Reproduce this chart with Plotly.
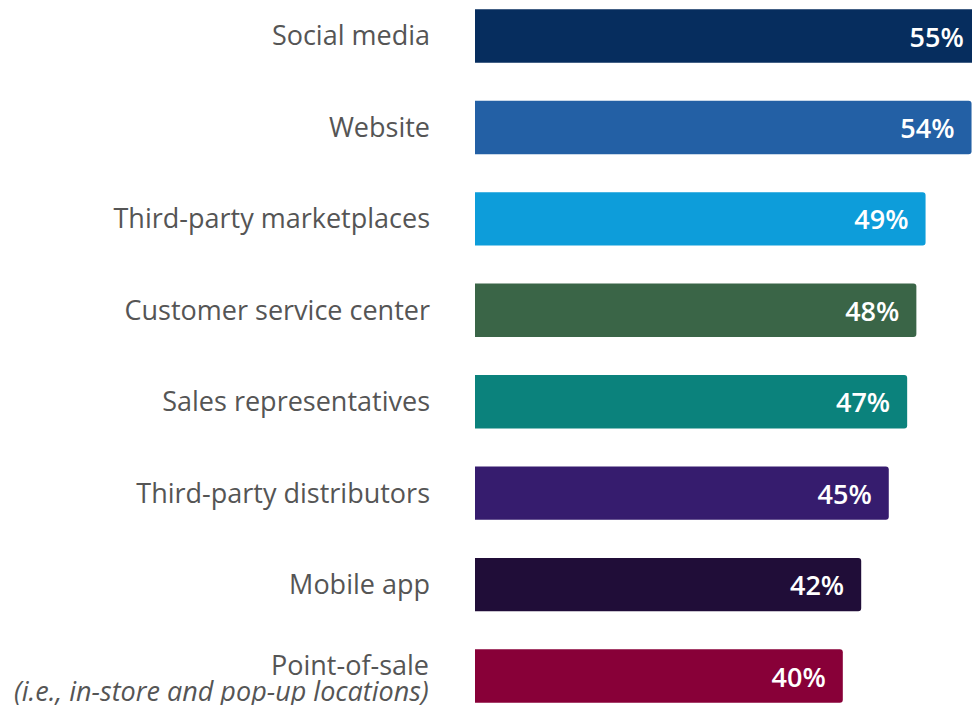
import plotly.graph_objects as go

# Channels and share of respondents (%)
channels = [
    "Social media",
    "Website",
    "Third-party marketplaces",
    "Customer service center",
    "Sales representatives",
    "Third-party distributors",
    "Mobile app",
    "Point-of-sale",
]
channel_notes = ["", "", "", "", "", "", "", "(i.e., in-store and pop-up locations)"]
values = [55, 54, 49, 48, 47, 45, 42, 40]
bar_colors = ["#062d5e", "#2360a5", "#0d9dda", "#3a6547",
              "#0b827c", "#361c6e", "#200d38", "#880038"]

value_labels = [f"{v}%\u00a0\u00a0" for v in values]

label_font = dict(family="Open Sans", size=27, color="#555555")

fig = go.Figure()

fig.add_trace(go.Bar(
    x=values,
    y=channels,
    orientation="h",
    width=0.584,
    marker=dict(color=bar_colors, cornerradius=3, line=dict(width=0)),
    text=value_labels,
    textposition="inside",
    insidetextanchor="end",
    constraintext="none",
    textangle=0,
    insidetextfont=dict(family="Open Sans", size=27, color="white", weight=600),
    hoverinfo="none",
))

# categories with a note get a tighter two-line label drawn as annotations
tick_text = [c if not n else "" for c, n in zip(channels, channel_notes)]
for c, n in zip(channels, channel_notes):
    if not n:
        continue
    fig.add_annotation(x=0, xref="paper", y=c, yref="y", text=c,
                       xanchor="right", yanchor="middle", xshift=-44, yshift=12,
                       showarrow=False, font=label_font)
    fig.add_annotation(x=0, xref="paper", y=c, yref="y", text=f"<i>{n}</i>",
                       xanchor="right", yanchor="middle", xshift=-44, yshift=-14,
                       showarrow=False, font=label_font)

fig.update_layout(
    width=972,
    height=705,
    margin=dict(l=475, r=0, t=0, b=0),
    paper_bgcolor="white",
    plot_bgcolor="white",
    showlegend=False,
    xaxis=dict(range=[0, 54.05], visible=False, fixedrange=True),
    yaxis=dict(
        range=[7.317, -0.394],
        tickmode="array",
        tickvals=channels,
        ticktext=tick_text,
        showgrid=False,
        zeroline=False,
        showline=False,
        ticks="",
        ticklabelstandoff=44,
        tickfont=label_font,
        fixedrange=True,
    ),
)

# page body margin would push the 972x705 figure off the window
fig.write_html(
    "out.html",
    config={"displayModeBar": False},
    post_script="document.body.style.margin='0';",
)
